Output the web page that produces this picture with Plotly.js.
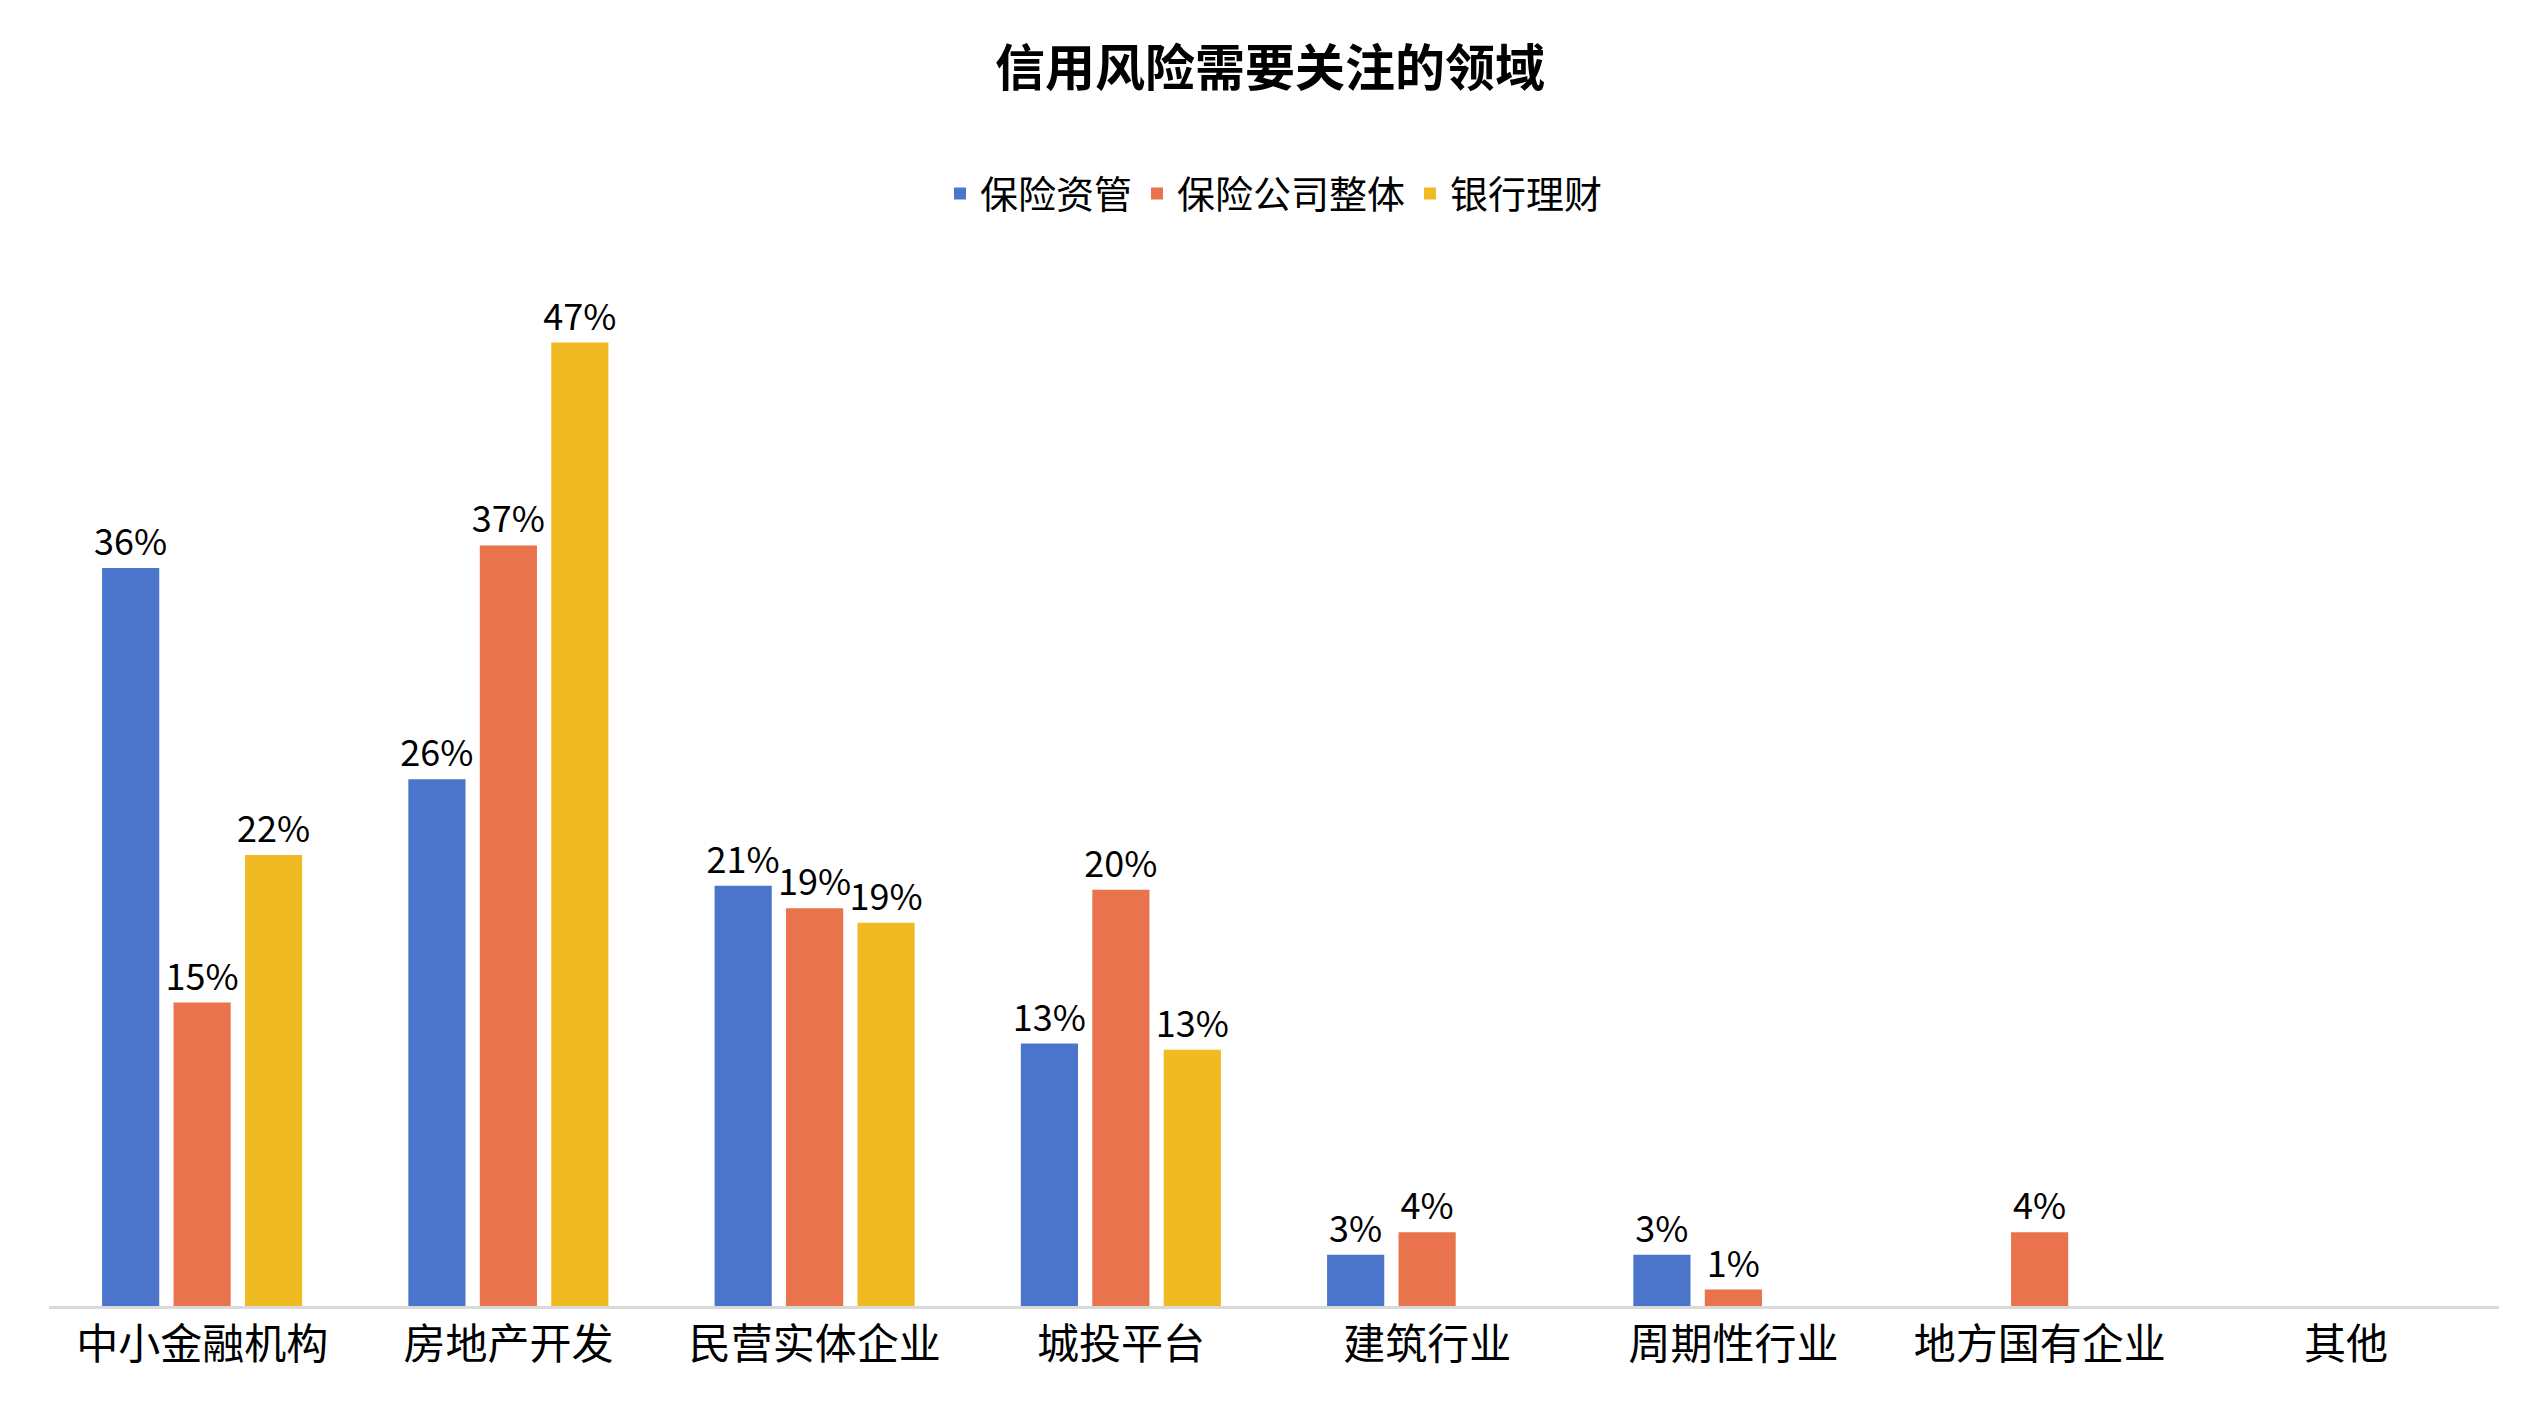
<!DOCTYPE html>
<html>
<head>
<meta charset="utf-8">
<script src="https://cdn.plot.ly/plotly-3.0.1.min.js"></script>
<style>body{margin:0;background:#fff}</style>
</head>
<body>
<div id="chart" style="width:2540px;height:1425px"></div>
<script>
// 信用风险需要关注的领域
var categories = ['中小金融机构', '房地产开发', '民营实体企业', '城投平台', '建筑行业', '周期性行业', '地方国有企业', '其他'];
var insAsset = [0.36, 0.257, 0.205, 0.128, 0.025, 0.025, null, null];   // 保险资管
var insCompany = [0.148, 0.371, 0.194, 0.203, 0.036, 0.008, 0.036, null]; // 保险公司整体
var bankWealth = [0.22, 0.47, 0.187, 0.125, null, null, null, null];   // 银行理财

var font = 'Noto Sans CJK SC, Noto Sans, sans-serif';

function series(name, y, color) {
  return {
    type: 'bar', name: name, x: categories, y: y,
    marker: {color: color},
    texttemplate: '%{y:.0%}', textposition: 'outside',
    constraintext: 'none',
    textfont: {size: 36, color: '#000', family: font},
    cliponaxis: false
  };
}

var data = [
  series('保险资管', insAsset, '#4A75CA'),
  series('保险公司整体', insCompany, '#E8734D'),
  series('银行理财', bankWealth, '#F0BB22')
];

var layout = {
  title: {text: '<b>信用风险需要关注的领域</b>', font: {size: 50, family: font, color: '#000'}, x: 0.5, y: 0.952, yanchor: 'middle'},
  font: {family: font, color: '#000'},
  barmode: 'group', bargap: 0.3, bargroupgap: 0.2,
  showlegend: true,
  legend: {orientation: 'h', x: 0.5, xanchor: 'center', y: 1.085, yanchor: 'middle', font: {size: 38}, traceorder: 'normal'},
  margin: {l: 49, r: 41, t: 281, b: 119},
  xaxis: {tickfont: {size: 42}, showline: true, linecolor: '#D9D9D9', linewidth: 3, ticks: ''},
  yaxis: {range: [0, 0.5], visible: false, showgrid: false, zeroline: false},
  plot_bgcolor: '#fff', paper_bgcolor: '#fff'
};

Plotly.newPlot('chart', data, layout, {displayModeBar: false});
</script>
</body>
</html>
